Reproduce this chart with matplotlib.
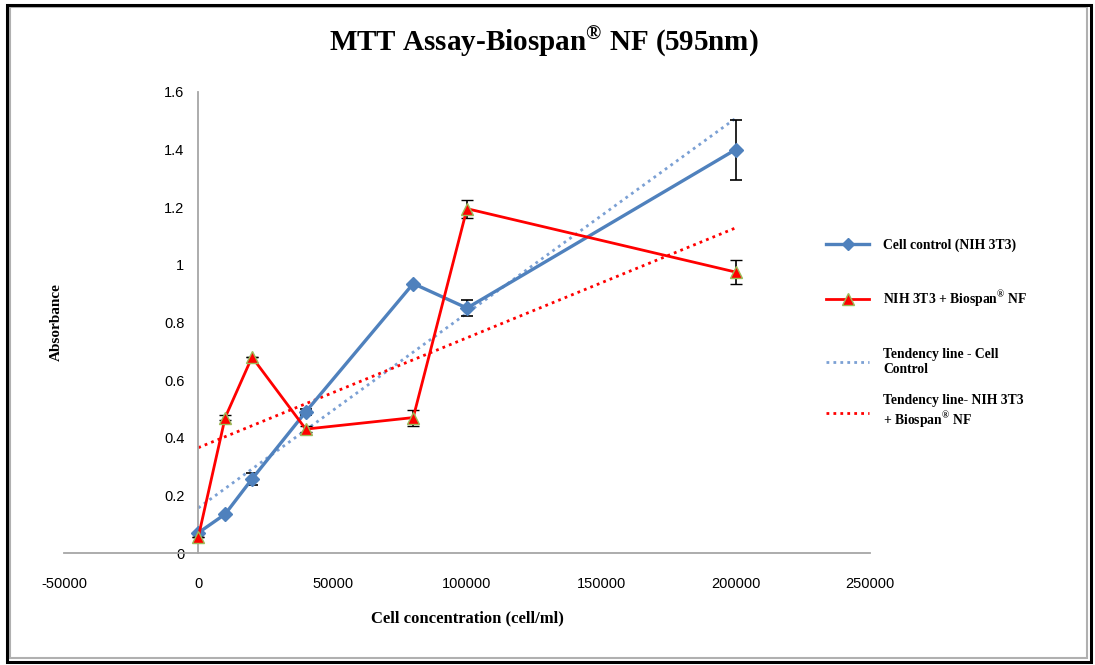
import matplotlib
matplotlib.use('Agg')
import matplotlib.pyplot as plt
import numpy as np
from matplotlib.patches import Rectangle
from matplotlib.lines import Line2D

plt.rcParams['mathtext.fontset'] = 'custom'
plt.rcParams['mathtext.rm'] = 'Liberation Serif:bold'
plt.rcParams['mathtext.bf'] = 'Liberation Serif:bold'

# cell concentration (cell/ml)
conc = [0, 10000, 20000, 40000, 80000, 100000, 200000]

# absorbance at 595 nm
control = [0.07, 0.135, 0.257, 0.49, 0.935, 0.85, 1.40]
control_err = [0.0, 0.0, 0.02, 0.01, 0.0, 0.028, 0.104]
biospan = [0.055, 0.47, 0.68, 0.43, 0.47, 1.195, 0.975]
biospan_err = [0.0, 0.01, 0.0, 0.01, 0.028, 0.031, 0.043]

x_ticks = [-50000, 0, 50000, 100000, 150000, 200000, 250000]
y_ticks = [0, 0.2, 0.4, 0.6, 0.8, 1.0, 1.2, 1.4, 1.6]
y_tick_labels = ['0', '0.2', '0.4', '0.6', '0.8', '1', '1.2', '1.4', '1.6']

BLUE = '#4f81bd'
RED = '#ff0000'
SERIF = 'Liberation Serif'


def trend(x, y):
    # linear trend line over the data range, like Excel
    k, b = np.polyfit(x, y, 1)
    xs = np.array([min(x), max(x)])
    return xs, k * xs + b


fig = plt.figure(figsize=(10.95, 6.65), dpi=100)
ax = fig.add_axes([0.0584, 0.1684, 0.7361, 0.6933])

xs, ys = trend(conc, control)
ax.plot(xs, ys, ls=(0, (1, 1.5)), color='#7ba0d4', lw=2.0, zorder=1)
xs, ys = trend(conc, biospan)
ax.plot(xs, ys, ls=(0, (1, 1.5)), color=RED, lw=2.0, zorder=1)

ax.errorbar(conc, control, yerr=control_err, color=BLUE, lw=2.4, marker='D', ms=7,
            mfc=BLUE, mec=BLUE, ecolor='black', elinewidth=1.2, capsize=4, capthick=1.2, zorder=3)
ax.errorbar(conc, biospan, yerr=biospan_err, color=RED, lw=2.0, marker='^', ms=9,
            mfc=RED, mec='#9bbb59', mew=1.0, ecolor='black', elinewidth=1.2, capsize=4, capthick=1.2, zorder=4)

ax.set_xlim(-50000, 250000)
ax.set_ylim(0, 1.6)
ax.set_xticks(x_ticks)
ax.set_xticklabels([str(t) for t in x_ticks])
ax.set_yticks(y_ticks)
ax.set_yticklabels(y_tick_labels)
for s in ['top', 'right']:
    ax.spines[s].set_visible(False)
ax.spines['left'].set_position(('data', 0))
for s in ['left', 'bottom']:
    ax.spines[s].set_color('#a6a6a6')
    ax.spines[s].set_linewidth(1.3)
ax.tick_params(axis='both', length=0, labelsize=10.5)
ax.tick_params(axis='x', pad=17)
ax.tick_params(axis='y', pad=10)
for lab in ax.get_xticklabels() + ax.get_yticklabels():
    lab.set_family('Liberation Sans')

ax.set_xlabel('Cell concentration (cell/ml)', family=SERIF, weight='bold', fontsize=12, labelpad=14)
fig.text(0.051, 0.515, 'Absorbance', rotation=90, family=SERIF, weight='bold', fontsize=11,
         ha='center', va='center')

fig.text(0.497, 0.938, r'MTT Assay-Biospan$^{\circledR}$ NF (595nm)', family=SERIF, weight='bold',
         fontsize=21, ha='center', va='center')

# legend: data series
h1 = [Line2D([], [], color=BLUE, lw=2.4, marker='D', ms=6, mfc=BLUE, mec=BLUE),
      Line2D([], [], color=RED, lw=2.0, marker='^', ms=8, mfc=RED, mec='#9bbb59')]
fig.legend(h1, ['Cell control (NIH 3T3)', r'NIH 3T3 + Biospan$^{\circledR}$ NF'],
           loc='upper left', bbox_to_anchor=(0.743, 0.66), frameon=False,
           labelspacing=2.7, handlelength=3.2, handletextpad=1.0,
           prop={'family': SERIF, 'weight': 'bold', 'size': 9.8})
h2 = [Line2D([], [], color='#7ba0d4', lw=2.0, ls=(0, (1, 1.5))),
      Line2D([], [], color=RED, lw=2.0, ls=(0, (1, 1.5)))]
fig.legend(h2, ['Tendency line - Cell\nControl', 'Tendency line- NIH 3T3\n' + r'+ Biospan$^{\circledR}$ NF'],
           loc='upper left', bbox_to_anchor=(0.743, 0.495), frameon=False,
           labelspacing=1.3, handlelength=3.2, handletextpad=1.0,
           prop={'family': SERIF, 'weight': 'bold', 'size': 9.8})

# outer frame
fig.patches.append(Rectangle((0.0095, 0.011), 0.983, 0.978, transform=fig.transFigure,
                             fill=False, ec='#b0b0b0', lw=1.5))
fig.patches.append(Rectangle((0.0065, 0.005), 0.99, 0.987, transform=fig.transFigure,
                             fill=False, ec='black', lw=2.2))

fig.savefig('out.png', dpi=100)
